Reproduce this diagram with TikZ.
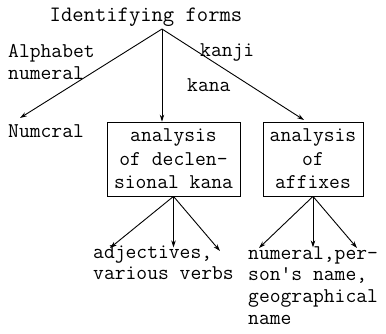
\documentclass[tikz,border=0pt]{standalone}
\usetikzlibrary{arrows.meta}
\begin{document}
\begin{tikzpicture}[x=1pt,y=-1pt,
	font=\fontsize{21}{23.5}\selectfont\ttfamily,
	lbl/.style={inner sep=0pt,anchor=base west},
	many/.style={inner sep=0pt,anchor=north west,align=left,font=\fontsize{21}{21.8}\selectfont\ttfamily},
	box/.style={draw,thick,inner sep=0pt,minimum width=133pt,minimum height=74pt,align=center},
	arr/.style={-{Stealth[length=7pt,width=4.5pt]},line width=0.9pt}]
	\useasboundingbox (0,0) rectangle (386,334);
	% top
	\node[inner sep=0pt,anchor=base] (forms) at (146,22) {\fontsize{22}{24}\selectfont Identifying forms};
	\coordinate (apex) at (162,29);
	\node[many] (alpha) at (8,44) {Alphabet\\numeral};
	\node[lbl] (kanji) at (200,57) {kanji};
	\node[lbl] (kana) at (187,92) {kana};
	\node[lbl] (numcral) at (8,138) {Numcral};
	% boxes
	\node[box] (decl) at (173.5,159) {analysis\\of declen-\\sional kana};
	\node[box,minimum width=100pt] (affix) at (313,159) {analysis\\of\\affixes};
	\coordinate (tl) at (20,118);
	\coordinate (tr) at (304,120);
	\draw[arr] (apex) -- (tl);
	\draw[arr] (apex) -- (apex |- decl.north);
	\draw[arr] (apex) -- (tr);
	% bottom
	\node[many] (adj) at (93,245) {adjectives,\\various verbs};
	\node[many] (names) at (248,246) {numeral,per-\\son's name,\\geographical\\name};
	\coordinate (d1) at (110,248);
	\coordinate (d3) at (220,251);
	\coordinate (a1) at (259,248);
	\coordinate (a3) at (357,248);
	\draw[arr] (decl.south) -- (d1);
	\draw[arr] (decl.south) -- ++(0,51);
	\draw[arr] (decl.south) -- (d3);
	\draw[arr] (affix.south) -- (a1);
	\draw[arr] (affix.south) -- ++(0,51);
	\draw[arr] (affix.south) -- (a3);
\end{tikzpicture}
\end{document}
